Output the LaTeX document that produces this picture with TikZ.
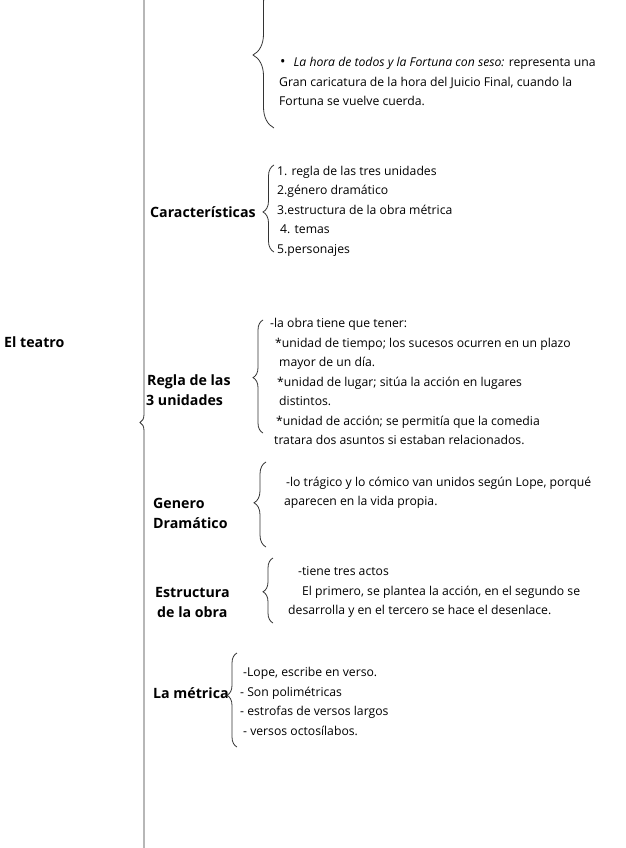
\documentclass[tikz,border=0pt]{standalone}
\usepackage{fontspec}
\setmainfont{Open Sans}
\usetikzlibrary{decorations.pathreplacing}

\begin{document}
\begin{tikzpicture}[x=1pt,y=-1pt]
\tikzset{txt/.style={anchor=west,inner sep=0pt,align=left,font=\fontsize{12.2}{19.5}\selectfont},
head/.style={txt,font=\fontsize{14.2}{20}\selectfont\bfseries},
llave/.style 2 args={draw=black!80,line width=0.8pt,decorate,decoration={brace,amplitude=#1,aspect=#2}}}
\useasboundingbox (0,0) rectangle (625,848);

\draw[llave={8pt}{0.5}] (148,870) -- (148,-25);

\node (teatro) at (4,342) [head] {El teatro};
\node (carac) at (150,212) [head] {Características};
\node (regla) at (146,390) [head] {\hspace*{1pt}Regla de las\\3 unidades};
\node (genero) at (153,513) [head] {Genero\\Dramático};
\node (estruc) at (155,602) [head] {Estructura\\\hspace*{2pt}de la obra};
\node (metrica) at (153,693) [head] {La métrica};

\draw[llave={21pt}{0.5}] (274,128) -- (274,-18);
\node (hora) at (279,81.5) [txt] {\hspace*{1pt}{\Large\textbullet}\hspace*{8pt}\textit{La hora de todos y la Fortuna con seso:} representa una\\
Gran caricatura de la hora del Juicio Final, cuando la\\
Fortuna se vuelve cuerda.};

\draw[llave={11pt}{0.46}] (274,252) -- (274,165);
\node (lista) at (277,211) [txt] {1. regla de las tres unidades\\
2.género dramático\\
3.estructura de la obra métrica\\
\hspace*{3pt}4. temas\\
5.personajes};

\draw[llave={10pt}{0.49}] (263,433) -- (263,320);
\node (unidades) at (270,381.5) [txt] {-la obra tiene que tener:\\
\hspace*{5pt}*unidad de tiempo; los sucesos ocurren en un plazo\\
\hspace*{9pt}mayor de un día.\\
\hspace*{7pt}*unidad de lugar; sitúa la acción en lugares\\
\hspace*{9pt}distintos.\\
\hspace*{6pt}*unidad de acción; se permitía que la comedia\\
\hspace*{4pt}tratara dos asuntos si estaban relacionados.};

\draw[llave={12pt}{0.52}] (266,547) -- (266,462);
\node (tragico) at (284,493) [txt] {\hspace*{2pt}-lo trágico y lo cómico van unidos según Lope, porqué\\
aparecen en la vida propia.};

\draw[llave={10pt}{0.48}] (273,623) -- (273,558);
\node (actos) at (288,592) [txt] {\hspace*{10pt}-tiene tres actos\\
\hspace*{14pt}El primero, se plantea la acción, en el segundo se\\
desarrolla y en el tercero se hace el desenlace.};

\draw[llave={10pt}{0.55}] (237,747) -- (237,653);
\node (verso) at (240,701.5) [txt] {\hspace*{3pt}-Lope, escribe en verso.\\
- Son polimétricas\\
- estrofas de versos largos\\
\hspace*{3pt}- versos octosílabos.};

\end{tikzpicture}
\end{document}
